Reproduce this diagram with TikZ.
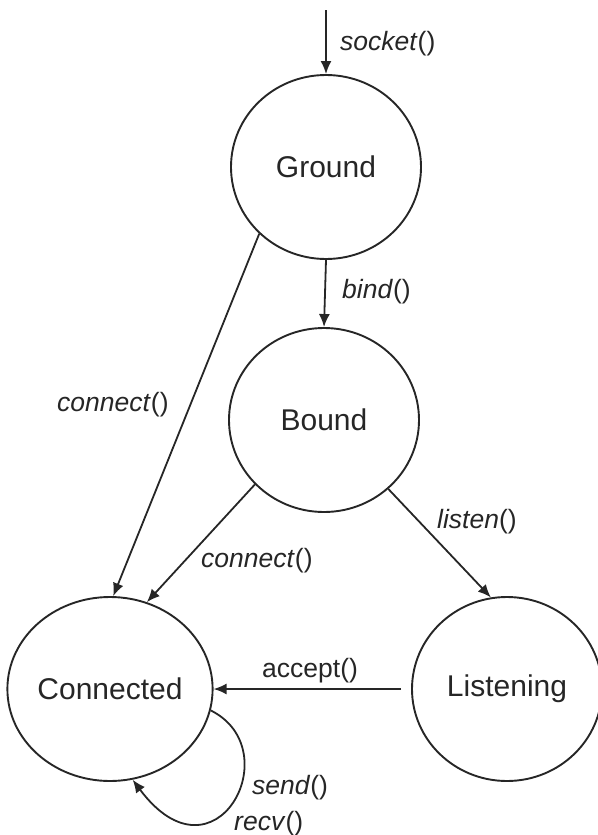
\documentclass[tikz,border=0pt]{standalone}
\usepackage{fontspec}
\setmainfont{Liberation Sans}
\usetikzlibrary{shapes.geometric,arrows.meta}
\begin{document}
\begin{tikzpicture}[x=1pt,y=-1pt,
  state/.style={ellipse,draw=black!85,line width=1.9pt,minimum width=190pt,minimum height=184pt,inner sep=0pt,text=black!85,font=\fontsize{30}{36}\selectfont},
  trans/.style={draw=black!85,line width=1.8pt,-{Latex[length=13pt,width=11pt]}},
  lbl/.style={anchor=west,inner sep=0pt,text=black!85,font=\fontsize{26.5}{32}\selectfont}]
\useasboundingbox (0,0) rectangle (597,835);
\node[state] (ground) at (326,167) {Ground};
\node[state] (bound) at (324,420) {Bound};
\node[state] (connected) at (110,689) {Connected};
\node[state] (listening) at (507,689) {Listening};
\coordinate (start) at (326,10);
% transitions
\draw[trans] (start) -- (ground.north);
\draw[trans] (ground.south) -- (bound.north);
\draw[trans] (ground.225) -- (connected.88);
\draw[trans] (bound.223) -- (connected.67);
\draw[trans] (bound.313) -- (listening.100);
\draw[trans, shorten <=10pt] (listening.west) -- (connected.east);
\draw[trans] (connected.-12) .. controls (290,750) and (215,890) .. (connected.284);
% labels
\node[lbl] (lsocket) at (340,44) {\textit{socket}()};
\node[lbl] (lbind) at (342,292) {\textit{bind}()};
\node[lbl] (lconn1) at (57,405) {\textit{connect}()};
\node[lbl] (lconn2) at (201,561) {\textit{connect}()};
\node[lbl] (llisten) at (437,522) {\textit{listen}()};
\node[lbl] (laccept) at (262,671) {accept()};
\node[lbl] (lsend) at (252,788) {\textit{send}()};
\node[lbl] (lrecv) at (234,824) {\textit{recv}()};
\end{tikzpicture}
\end{document}
